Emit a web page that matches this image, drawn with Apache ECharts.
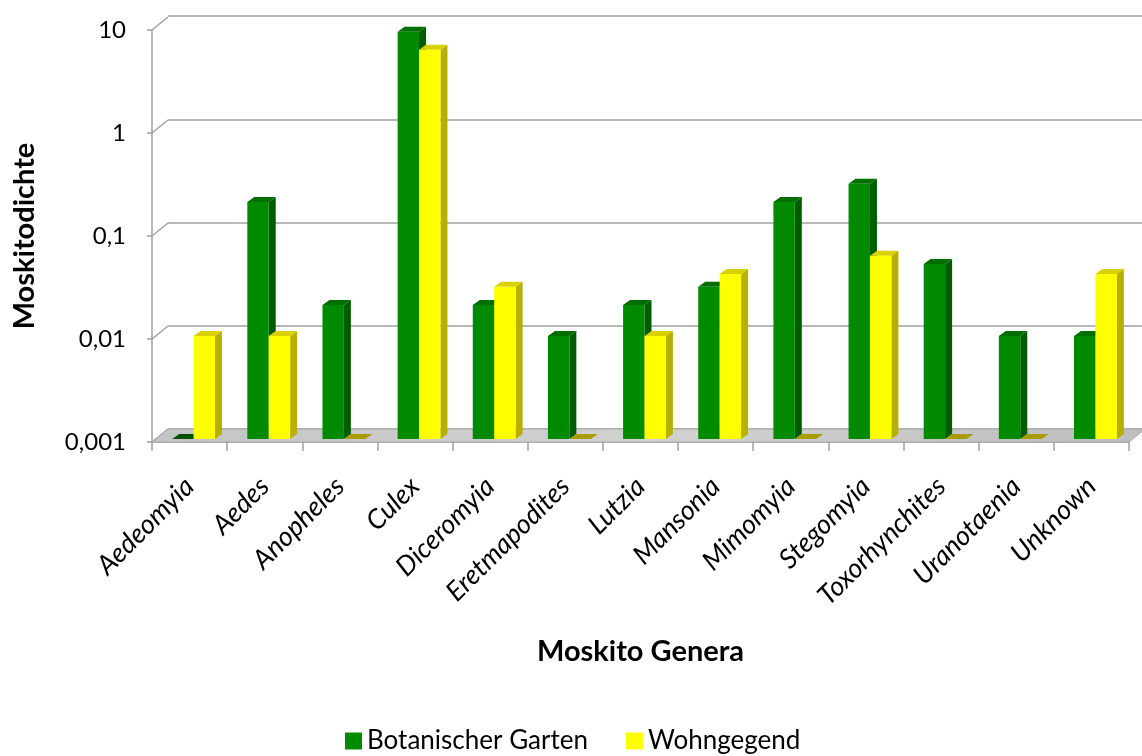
<!DOCTYPE html>
<html>
<head>
<meta charset="utf-8">
<script src="https://cdn.jsdelivr.net/npm/echarts@6/dist/echarts.min.js"></script>
<style>
  html, body { margin: 0; padding: 0; background: #fff; }
  #chart { width: 1142px; height: 756px; }
</style>
</head>
<body>
<div id="chart"></div>
<script>
// values (0 = no mosquitoes, drawn as flat sliver)
const genera = ['Aedeomyia', 'Aedes', 'Anopheles', 'Culex', 'Diceromyia', 'Eretmapodites',
  'Lutzia', 'Mansonia', 'Mimomyia', 'Stegomyia', 'Toxorhynchites', 'Uranotaenia', 'Unknown']
const botanischerGarten = [0, 0.2, 0.02, 9, 0.02, 0.01, 0.02, 0.03, 0.2, 0.3, 0.05, 0.01, 0.01]
const wohngegend = [0.01, 0.01, 0, 6, 0.03, 0, 0.01, 0.04, 0, 0.06, 0, 0, 0.04]
const yTicks = [0.001, 0.01, 0.1, 1, 10]
const yTickLabels = ['0,001', '0,01', '0,1', '1', '10']

const FONT = 'Lato, "Open Sans", sans-serif'
const Y_MIN = 0.001
const Y_MAX = 10

// fake 3D offsets (px)
const WALL = { dx: 16, dy: -13 }
const FRONT = { dx: 4, dy: -3 }
const DEPTH = { dx: 7, dy: -5 }

const palette = {
  green: { front: '#008a00', side: '#005c00', top: '#006e00', flat: '#005200' },
  yellow: { front: '#ffff00', side: '#b8b000', top: '#d8d000', flat: '#a89c00' }
}

const chart = echarts.init(document.getElementById('chart'))

const makeBarRenderer = (colors, which) => (params, api) => {
  const idx = api.value(0)
  const v = api.value(1)
  const bandW = api.size([1, 0])[0]
  const barW = bandW * 0.285
  const base = api.coord([idx, Y_MIN])
  const cx = base[0]
  const x0 = (which === 0 ? cx - barW : cx) + FRONT.dx
  const yb = base[1] + FRONT.dy
  if (!v || v <= 0) {
    return {
      type: 'polygon',
      shape: { points: [[x0, yb], [x0 + DEPTH.dx, yb + DEPTH.dy], [x0 + barW + DEPTH.dx, yb + DEPTH.dy], [x0 + barW, yb]] },
      style: { fill: colors.flat }
    }
  }
  const yt = api.coord([idx, v])[1] + FRONT.dy
  const x1 = x0 + barW
  return {
    type: 'group',
    children: [
      {
        type: 'polygon',
        shape: { points: [[x1, yt], [x1 + DEPTH.dx, yt + DEPTH.dy], [x1 + DEPTH.dx, yb + DEPTH.dy], [x1, yb]] },
        style: { fill: colors.side }
      },
      {
        type: 'polygon',
        shape: { points: [[x0, yt], [x0 + DEPTH.dx, yt + DEPTH.dy], [x1 + DEPTH.dx, yt + DEPTH.dy], [x1, yt]] },
        style: { fill: colors.top }
      },
      {
        type: 'rect',
        shape: { x: x0, y: yt, width: barW, height: yb - yt },
        style: { fill: colors.front }
      }
    ]
  }
}

const option = {
  animation: false,
  textStyle: { fontFamily: FONT },
  grid: [
    { left: 152, right: 13, top: 30, bottom: 314, outerBoundsMode: 'none', containLabel: false },
    { left: 168, right: 0, top: 16, bottom: 327, outerBoundsMode: 'none', containLabel: false }
  ],
  legend: {
    left: 340,
    top: 723,
    itemWidth: 17,
    itemHeight: 17,
    itemGap: 38,
    icon: 'rect',
    textStyle: { fontSize: 26, color: '#000', fontFamily: FONT },
    data: ['Botanischer Garten', 'Wohngegend']
  },
  xAxis: [
    {
      type: 'category',
      gridIndex: 0,
      data: genera,
      boundaryGap: true,
      axisLine: { lineStyle: { color: '#a0a0a0', width: 1.5 } },
      axisTick: { show: true, interval: 0, length: 9, lineStyle: { color: '#a0a0a0', width: 1.5 } },
      axisLabel: {
        interval: 0,
        rotate: 45,
        margin: 40,
        fontSize: 27,
        fontStyle: 'italic',
        color: '#000'
      },
      name: 'Moskito Genera',
      nameLocation: 'middle',
      nameGap: 195,
      nameMoveOverlap: false,
      nameTextStyle: { fontSize: 29, fontWeight: 'bold', color: '#000' }
    },
    {
      type: 'value',
      gridIndex: 1,
      min: 0,
      max: 1,
      show: false
    }
  ],
  yAxis: [
    {
      type: 'log',
      gridIndex: 0,
      logBase: 10,
      min: Y_MIN,
      max: Y_MAX,
      axisLine: { show: true, lineStyle: { color: '#a0a0a0', width: 1.5 } },
      axisTick: { show: true, length: 5, lineStyle: { color: '#a0a0a0', width: 1.5 } },
      splitLine: { show: false },
      axisLabel: {
        margin: 26,
        fontSize: 24,
        color: '#000',
        formatter: v => yTickLabels[Math.round(Math.log10(v)) + 3]
      },
      name: 'Moskitodichte',
      nameLocation: 'middle',
      nameGap: 113,
      nameRotate: 90,
      nameMoveOverlap: false,
      nameTextStyle: { fontSize: 29, fontWeight: 'bold', color: '#000' }
    },
    {
      type: 'log',
      gridIndex: 1,
      logBase: 10,
      min: Y_MIN,
      max: Y_MAX,
      axisLine: { show: false },
      axisTick: { show: false },
      axisLabel: { show: false },
      splitLine: { show: true, lineStyle: { color: '#a0a0a0', width: 1.5 } }
    }
  ],
  series: [
    {
      // left wall connectors from front ticks to back gridlines
      type: 'custom',
      xAxisIndex: 0,
      yAxisIndex: 0,
      silent: true,
      z: 1,
      data: yTicks.map(t => [0, t]),
      renderItem: (params, api) => {
        const bandW = api.size([1, 0])[0]
        const p = api.coord([0, api.value(1)])
        const x = p[0] - bandW / 2
        return {
          type: 'line',
          shape: { x1: x, y1: p[1], x2: x + WALL.dx, y2: p[1] + WALL.dy },
          style: { stroke: '#a0a0a0', lineWidth: 1.5 }
        }
      }
    },
    {
      // grey floor
      type: 'custom',
      xAxisIndex: 0,
      yAxisIndex: 0,
      silent: true,
      z: 1,
      data: [[0, Y_MIN]],
      renderItem: (params, api) => {
        const bandW = api.size([1, 0])[0]
        const a = api.coord([0, Y_MIN])
        const b = api.coord([genera.length - 1, Y_MIN])
        const xl = a[0] - bandW / 2
        const xr = b[0] + bandW / 2
        const y = a[1]
        return {
          type: 'polygon',
          shape: { points: [[xl, y], [xl + WALL.dx, y + WALL.dy], [xr + WALL.dx, y + WALL.dy], [xr, y]] },
          style: {
            fill: new echarts.graphic.LinearGradient(0, 0, 1, 0, [
              { offset: 0, color: '#c4c4c4' },
              { offset: 0.5, color: '#d2d2d2' },
              { offset: 1, color: '#bdbdbd' }
            ]),
            stroke: '#a8a8a8',
            lineWidth: 1
          }
        }
      }
    },
    {
      name: 'Botanischer Garten',
      type: 'custom',
      xAxisIndex: 0,
      yAxisIndex: 0,
      z: 3,
      itemStyle: { color: palette.green.front },
      data: botanischerGarten.map((v, i) => [i, v]),
      renderItem: makeBarRenderer(palette.green, 0)
    },
    {
      name: 'Wohngegend',
      type: 'custom',
      xAxisIndex: 0,
      yAxisIndex: 0,
      z: 4,
      itemStyle: { color: palette.yellow.front },
      data: wohngegend.map((v, i) => [i, v]),
      renderItem: makeBarRenderer(palette.yellow, 1)
    }
  ]
}

chart.setOption(option)
</script>
</body>
</html>
